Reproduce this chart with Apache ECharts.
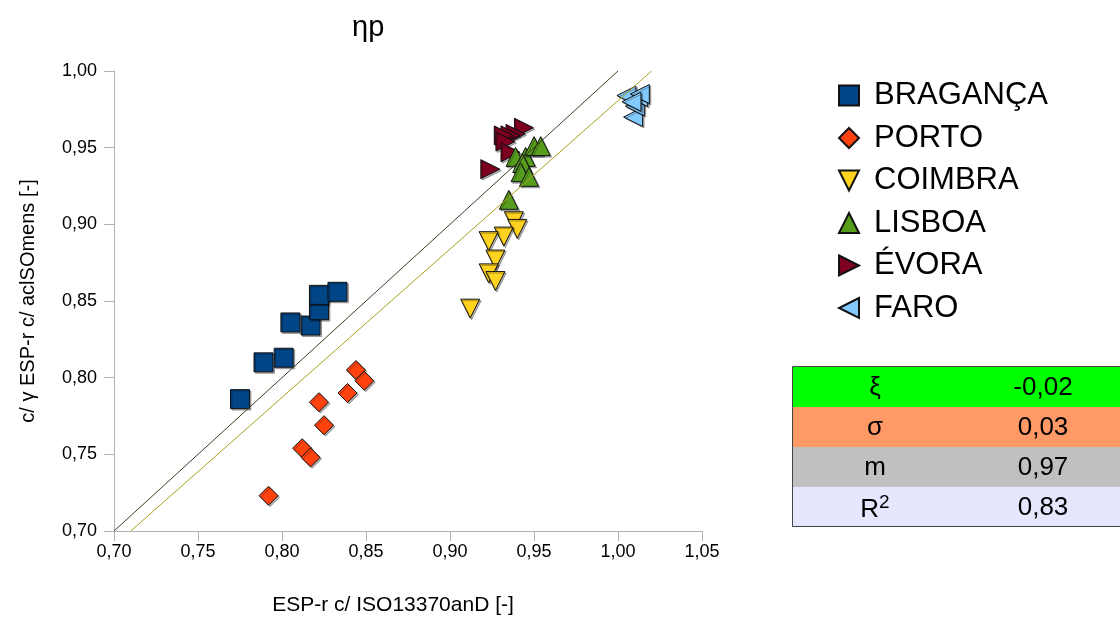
<!DOCTYPE html>
<html>
<head>
<meta charset="utf-8">
<script src="https://cdn.jsdelivr.net/npm/echarts@6/dist/echarts.min.js"></script>
<style>
  body { margin: 0; background: #fff; }
  #chart { width: 1120px; height: 619px; }
</style>
</head>
<body>
<div id="chart"></div>
<script>
// valores
var seriesNames = ['BRAGANÇA', 'PORTO', 'COIMBRA', 'LISBOA', 'ÉVORA', 'FARO']
var braganca = [[0.775, 0.786], [0.789, 0.810], [0.801, 0.813], [0.805, 0.836], [0.817, 0.834], [0.822, 0.844], [0.822, 0.854], [0.833, 0.856]]
var porto = [[0.844, 0.805], [0.849, 0.798], [0.839, 0.790], [0.822, 0.784], [0.825, 0.769], [0.812, 0.754], [0.817, 0.748], [0.792, 0.723]]
var coimbra = [[0.938, 0.902], [0.940, 0.897], [0.932, 0.892], [0.923, 0.889], [0.927, 0.877], [0.923, 0.868], [0.927, 0.863], [0.912, 0.845]]
var lisboa = [[0.935, 0.916], [0.939, 0.944], [0.945, 0.944], [0.943, 0.940], [0.950, 0.951], [0.954, 0.951], [0.942, 0.934], [0.947, 0.931]]
var evora = [[0.944, 0.963], [0.939, 0.959], [0.936, 0.958], [0.932, 0.958], [0.933, 0.954], [0.936, 0.947], [0.924, 0.936]]
var faro = [[1.009, 0.970], [1.010, 0.977], [1.012, 0.983], [1.005, 0.984], [1.013, 0.985], [1.008, 0.980]]
var identityLine = [[0.70, 0.70], [1.00, 1.00]]
var fitLine = [[0.71, 0.70], [1.02, 1.00]]
var statLabels = ['ξ', 'σ', 'm', 'R2']
var statValues = [-0.02, 0.03, 0.97, 0.83]

var FONT = 'Liberation Sans, Arial, sans-serif'
var colors = ['#004586', '#ff420e', '#ffd320', '#579d1c', '#7e0021', '#83caff']
var symbols = ['rect', 'diamond', 'path://M0,0L2,0L1,2Z', 'triangle', 'path://M0,0L2,1L0,2Z', 'path://M2,0L0,1L2,2Z']
var allData = [braganca, porto, coimbra, lisboa, evora, faro]

function fmt (v) {
  return v.toFixed(2).replace('.', ',')
}

var chart = echarts.init(document.getElementById('chart'))

// ordem de desenho: LISBOA por cima de ÉVORA
var drawOrder = [0, 1, 2, 4, 3, 5]
var series = drawOrder.map(function (i) {
  return {
    name: seriesNames[i],
    type: 'scatter',
    symbol: symbols[i],
    symbolSize: 19,
    data: allData[i],
    itemStyle: {
      color: colors[i],
      borderColor: '#111',
      borderWidth: 1,
      opacity: 1,
      shadowColor: 'rgba(0,0,0,0.3)',
      shadowOffsetX: 1.5,
      shadowOffsetY: 1.5
    },
    z: 2
  }
})
series.push({
  type: 'line',
  data: identityLine,
  symbol: 'none',
  silent: true,
  lineStyle: { color: '#3a4022', width: 1 },
  z: 5
})
series.push({
  type: 'line',
  data: fitLine,
  symbol: 'none',
  silent: true,
  lineStyle: { color: '#a8a01e', width: 1 },
  z: 5
})

// tabela de estatísticas
var rowColors = ['#00ff00', '#ff9966', '#c0c0c0', '#e6e6ff']
var tableEls = []
statLabels.forEach(function (lab, i) {
  var y = 367 + i * 40
  tableEls.push({
    type: 'rect',
    shape: { x: 792, y: y, width: 340, height: 40 },
    style: { fill: rowColors[i] }
  })
  var labText = lab === 'R2' ? '{r|R}{s|2}' : lab
  tableEls.push({
    type: 'text',
    x: 875,
    y: y + 21,
    style: {
      text: labText,
      font: '26px ' + FONT,
      fill: '#000',
      align: 'center',
      verticalAlign: 'middle',
      rich: {
        r: { fontSize: 26, fontFamily: FONT, lineHeight: 30, verticalAlign: 'bottom' },
        s: { fontSize: 19, fontFamily: FONT, lineHeight: 30, verticalAlign: 'top' }
      }
    }
  })
  tableEls.push({
    type: 'text',
    x: 1043,
    y: y + 21,
    style: {
      text: fmt(statValues[i]),
      font: '26px ' + FONT,
      fill: '#000',
      align: 'center',
      verticalAlign: 'middle'
    }
  })
})
tableEls.push({
  type: 'rect',
  shape: { x: 792.5, y: 366.5, width: 340, height: 160 },
  style: { fill: null, stroke: '#444', lineWidth: 1 }
})

chart.setOption({
  animation: false,
  title: {
    text: 'ηp',
    left: 347,
    top: 8,
    textStyle: { fontFamily: FONT, fontSize: 29, fontWeight: 'normal', color: '#000' }
  },
  legend: {
    orient: 'vertical',
    left: 838,
    top: 80,
    padding: 0,
    itemWidth: 20,
    itemHeight: 20,
    itemGap: 11.5,
    data: seriesNames.map(function (n, i) {
      return { name: n, icon: symbols[i] }
    }),
    textStyle: {
      fontFamily: FONT,
      fontSize: 31,
      lineHeight: 31,
      color: '#000',
      padding: [0, 0, 0, 10]
    },
    selectedMode: false
  },
  grid: {
    left: 114,
    right: 418,
    top: 71,
    bottom: 88,
    outerBoundsMode: 'none'
  },
  xAxis: {
    type: 'value',
    min: 0.70,
    max: 1.05,
    interval: 0.05,
    name: 'ESP-r c/ ISO13370anD [-]',
    nameLocation: 'middle',
    nameGap: 64,
    nameTextStyle: { fontFamily: FONT, fontSize: 21, color: '#000', padding: [0, 30, 0, 0] },
    axisLine: { show: true, onZero: false, lineStyle: { color: '#b3b3b3', width: 1 } },
    axisTick: { show: true, length: 10, lineStyle: { color: '#b3b3b3' } },
    axisLabel: { formatter: fmt, fontFamily: FONT, fontSize: 18, color: '#000', margin: 12 },
    splitLine: { show: false }
  },
  yAxis: {
    type: 'value',
    min: 0.70,
    max: 1.00,
    interval: 0.05,
    name: 'c/ γ ESP-r c/ aclSOmens [-]',
    nameLocation: 'middle',
    nameGap: 76,
    nameTextStyle: { fontFamily: FONT, fontSize: 20, color: '#000' },
    axisLine: { show: true, onZero: false, lineStyle: { color: '#b3b3b3', width: 1 } },
    axisTick: { show: true, length: 10, lineStyle: { color: '#b3b3b3' } },
    axisLabel: { formatter: fmt, fontFamily: FONT, fontSize: 18, color: '#000', margin: 17 },
    splitLine: { show: false }
  },
  graphic: tableEls,
  series: series
})
</script>
</body>
</html>
